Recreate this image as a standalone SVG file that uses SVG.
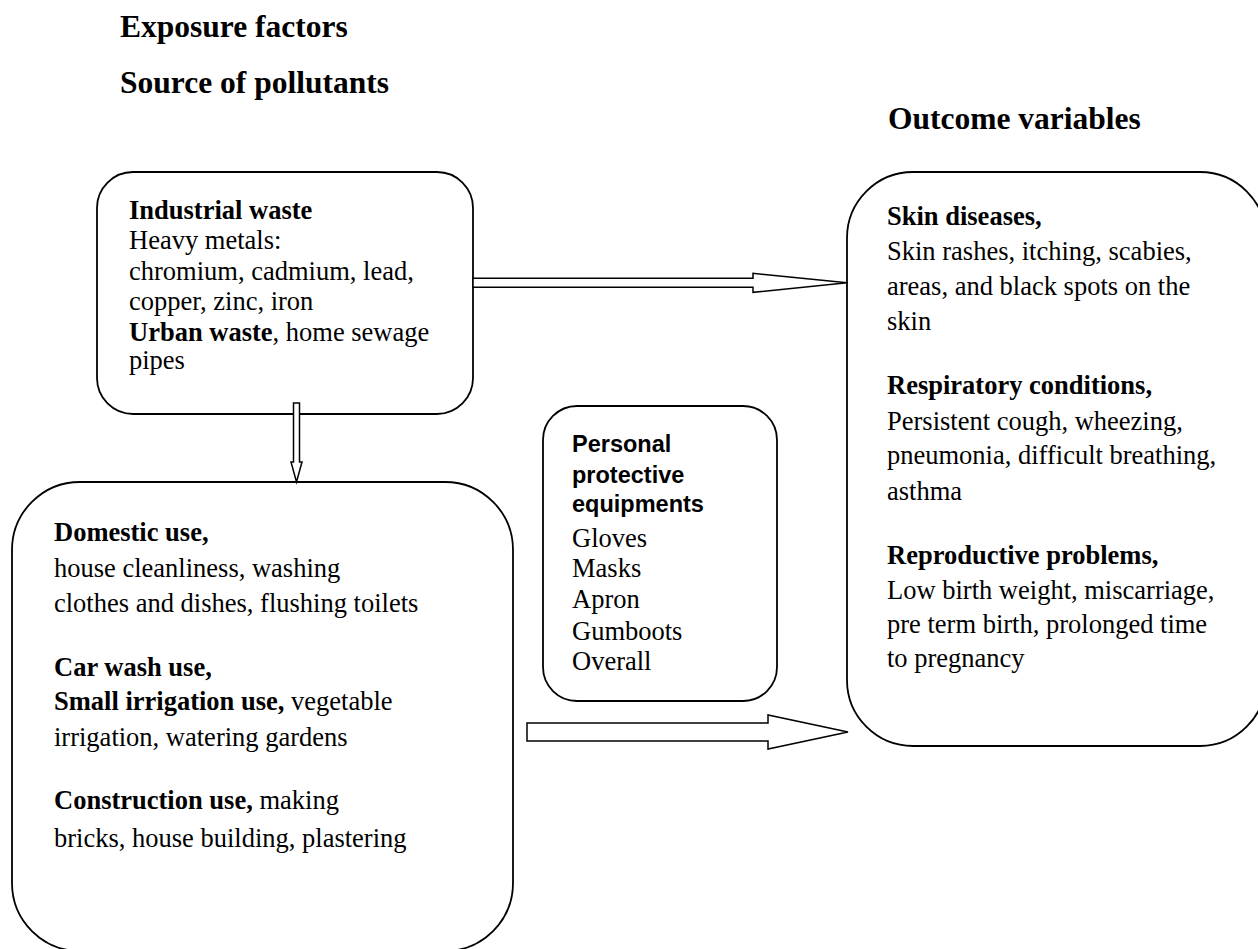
<svg xmlns="http://www.w3.org/2000/svg" width="1258" height="949" viewBox="0 0 1258 949">
<style>
.box{fill:#fff;stroke:#000;stroke-width:1.8}
.arr{fill:#fff;stroke:#000;stroke-width:1.5;stroke-linejoin:miter}
.t{font-family:"Liberation Serif","Times New Roman",serif;font-size:26.5px;fill:#000}
.b{font-weight:bold}
.title{font-family:"Liberation Serif","Times New Roman",serif;font-size:31.5px;font-weight:bold;fill:#000}
.s{font-family:"Liberation Sans",Arial,sans-serif;font-size:23.5px;font-weight:bold;fill:#000}
</style>
<rect width="1258" height="949" fill="#fff"/>
<g id="titles">
<text class="title" x="120" y="37">Exposure factors</text>
<text class="title" x="120" y="93">Source of pollutants</text>
<text class="title" x="888" y="129">Outcome variables</text>
</g>
<g id="industrial">
<rect class="box" x="97" y="172" width="376" height="242" rx="36" ry="36"/>
<text class="t" x="129" y="219"><tspan class="b">Industrial waste</tspan></text>
<text class="t" x="129" y="249">Heavy metals:</text>
<text class="t" x="129" y="280">chromium, cadmium, lead,</text>
<text class="t" x="129" y="310">copper, zinc, iron</text>
<text class="t" x="129" y="341"><tspan class="b">Urban waste</tspan>, home sewage</text>
<text class="t" x="129" y="369">pipes</text>
</g>
<g id="uses">
<rect class="box" x="12" y="482" width="501" height="469" rx="68" ry="68"/>
<text class="t" x="54" y="541"><tspan class="b">Domestic use,</tspan></text>
<text class="t" x="54" y="577">house cleanliness, washing</text>
<text class="t" x="54" y="612">clothes and dishes, flushing toilets</text>
<text class="t" x="54" y="676"><tspan class="b">Car wash use,</tspan></text>
<text class="t" x="54" y="710"><tspan class="b">Small irrigation use,</tspan> vegetable</text>
<text class="t" x="54" y="746">irrigation, watering gardens</text>
<text class="t" x="54" y="809"><tspan class="b">Construction use,</tspan> making</text>
<text class="t" x="54" y="847">bricks, house building, plastering</text>
</g>
<g id="ppe">
<rect class="box" x="543" y="406" width="234" height="295" rx="34" ry="34"/>
<text class="s" x="572" y="452">Personal</text>
<text class="s" x="572" y="483">protective</text>
<text class="s" x="572" y="512">equipments</text>
<text class="t" x="572" y="547">Gloves</text>
<text class="t" x="572" y="577">Masks</text>
<text class="t" x="572" y="608">Apron</text>
<text class="t" x="572" y="640">Gumboots</text>
<text class="t" x="572" y="670">Overall</text>
</g>
<g id="outcomes">
<rect class="box" x="847" y="172" width="419" height="574" rx="66" ry="66"/>
<text class="t" x="887" y="225"><tspan class="b">Skin diseases,</tspan></text>
<text class="t" x="887" y="260">Skin rashes, itching, scabies,</text>
<text class="t" x="887" y="295">areas, and black spots on the</text>
<text class="t" x="887" y="330">skin</text>
<text class="t" x="887" y="394"><tspan class="b">Respiratory conditions,</tspan></text>
<text class="t" x="887" y="430">Persistent cough, wheezing,</text>
<text class="t" x="887" y="464">pneumonia, difficult breathing,</text>
<text class="t" x="887" y="500">asthma</text>
<text class="t" x="887" y="564"><tspan class="b">Reproductive problems,</tspan></text>
<text class="t" x="887" y="599">Low birth weight, miscarriage,</text>
<text class="t" x="887" y="633">pre term birth, prolonged time</text>
<text class="t" x="887" y="667">to pregnancy</text>
</g>
<g id="connectors">
<polygon class="arr" points="473,278.3 753,278.3 753,273.3 847,282.8 753,292.3 753,287.3 473,287.3"/>
<polygon class="arr" points="293.5,403 299.5,403 299.5,462 302,462 296.5,482 291,462 293.5,462"/>
<polygon class="arr" points="527,723 768,723 768,715 848,732 768,749 768,741 527,741"/>
</g>
</svg>
